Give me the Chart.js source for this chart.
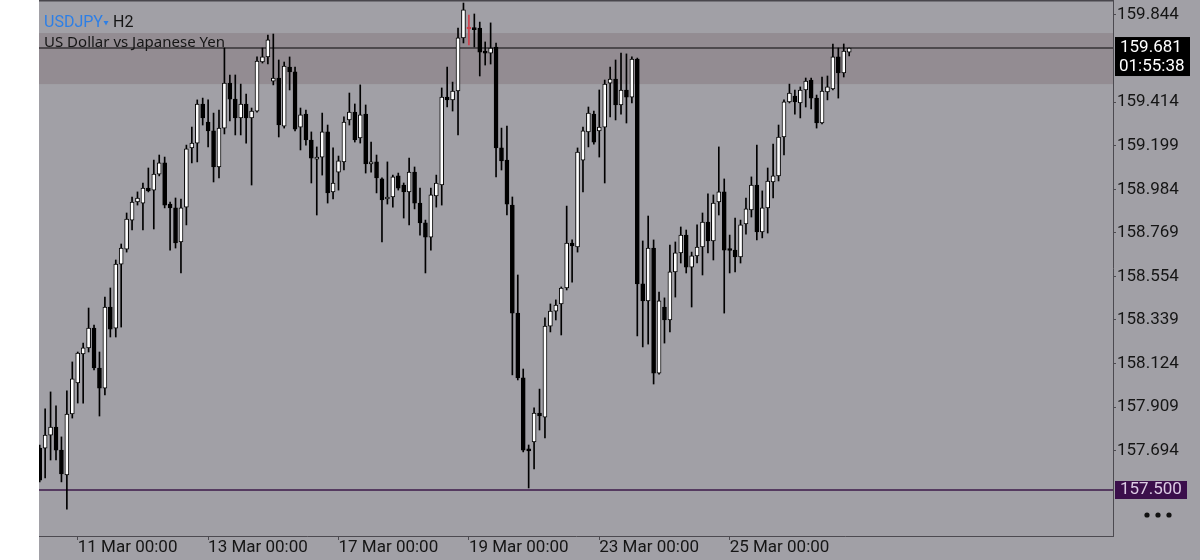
<!DOCTYPE html>
<html>
<head>
<meta charset="utf-8">
<script src="https://cdn.jsdelivr.net/npm/chart.js@4.4.1/dist/chart.umd.min.js"></script>
<style>
  html, body { margin: 0; padding: 0; background: #fff; }
  canvas { display: block; }
</style>
</head>
<body>
<canvas id="usdjpy" width="1200" height="560"></canvas>
<script>
// USDJPY H2 candles (index 0 is cut by the left edge)
const open = [
  157.707, 157.707, 157.771, 157.811, 157.697, 157.574, 157.875, 158.028, 158.171, 158.201,
  158.299, 158.102, 158.003, 158.403, 158.299, 158.615, 158.689, 158.832, 158.921, 158.916,
  158.990, 158.980, 159.059, 159.114, 158.911, 158.892, 158.724, 158.896, 159.188, 159.212,
  159.405, 159.316, 159.272, 159.094, 159.286, 159.508, 159.429, 159.336, 159.405, 159.336,
  159.370, 159.612, 159.637, 159.518, 159.533, 159.296, 159.587, 159.563, 159.291, 159.355,
  159.227, 159.133, 159.143, 159.267, 158.971, 159.069, 159.119, 159.326, 159.365, 159.237,
  159.355, 159.109, 159.119, 159.035, 158.936, 158.946, 159.050, 159.005, 158.971, 159.069,
  158.916, 158.818, 158.748, 158.951, 159.005, 159.439, 159.425, 159.469, 159.731, 159.775,
  159.775, 159.780, 159.661, 159.656, 159.686, 159.188, 159.128, 158.906, 158.373, 158.053,
  157.702, 157.737, 157.880, 157.860, 158.309, 158.383, 158.418, 158.497, 158.719, 158.699,
  159.128, 159.267, 159.355, 159.272, 159.291, 159.508, 159.528, 159.400, 159.474, 159.439,
  159.627, 158.517, 158.433, 158.694, 158.077, 158.403, 158.339, 158.576, 158.670, 158.758,
  158.600, 158.655, 158.699, 158.822, 158.729, 158.921, 158.971, 158.684, 158.684, 158.650,
  158.813, 158.882, 159.005, 158.773, 158.892, 159.020, 159.050, 159.242, 159.415, 159.444,
  159.410, 159.474, 159.523, 159.434, 159.311, 159.464, 159.479, 159.637, 159.558, 159.661
];
const high = [
  157.722, 157.900, 157.984, 157.915, 157.762, 157.989, 158.132, 158.181, 158.225, 158.398,
  158.314, 158.181, 158.452, 158.497, 158.635, 158.714, 158.867, 158.946, 158.971, 159.015,
  159.089, 159.128, 159.153, 159.143, 158.921, 158.941, 158.936, 159.202, 159.291, 159.425,
  159.434, 159.425, 159.360, 159.375, 159.681, 159.548, 159.548, 159.503, 159.454, 159.385,
  159.637, 159.681, 159.745, 159.750, 159.622, 159.612, 159.637, 159.587, 159.385, 159.375,
  159.267, 159.193, 159.360, 159.301, 159.188, 159.148, 159.341, 159.459, 159.405, 159.499,
  159.400, 159.217, 159.153, 159.040, 159.119, 159.054, 159.064, 159.015, 159.138, 159.094,
  158.990, 158.832, 158.990, 159.054, 159.484, 159.587, 159.513, 159.780, 159.903, 159.844,
  159.849, 159.809, 159.711, 159.805, 159.706, 159.286, 159.296, 158.946, 158.561, 158.097,
  157.722, 157.905, 157.998, 158.349, 158.418, 158.438, 158.502, 158.901, 158.734, 159.188,
  159.291, 159.390, 159.370, 159.474, 159.523, 159.587, 159.622, 159.656, 159.652, 159.637,
  159.632, 158.729, 158.852, 158.734, 158.477, 158.448, 158.709, 158.724, 158.798, 158.783,
  158.674, 158.808, 158.867, 158.961, 158.956, 159.193, 159.035, 158.758, 158.842, 158.832,
  158.941, 159.045, 159.202, 158.976, 159.089, 159.207, 159.301, 159.425, 159.503, 159.474,
  159.489, 159.533, 159.533, 159.449, 159.538, 159.543, 159.701, 159.681, 159.701, 159.681
];
const low = [
  157.540, 157.559, 157.648, 157.648, 157.540, 157.406, 157.855, 157.929, 157.929, 158.181,
  158.092, 157.865, 157.969, 158.255, 158.255, 158.304, 158.674, 158.783, 158.906, 158.783,
  158.971, 158.788, 159.050, 158.892, 158.684, 158.694, 158.571, 158.808, 159.114, 159.119,
  159.301, 159.193, 159.020, 159.040, 159.257, 159.321, 159.252, 159.252, 159.212, 159.005,
  159.365, 159.607, 159.602, 159.499, 159.242, 159.286, 159.474, 159.272, 159.178, 159.202,
  159.015, 158.857, 159.054, 158.916, 158.936, 158.980, 159.079, 159.301, 159.217, 159.212,
  159.064, 159.069, 158.966, 158.724, 158.911, 158.896, 158.980, 158.842, 158.808, 158.887,
  158.758, 158.571, 158.684, 158.896, 158.906, 159.390, 159.370, 159.252, 159.706, 159.696,
  159.686, 159.543, 159.597, 159.602, 159.045, 159.079, 158.857, 158.068, 158.043, 157.688,
  157.510, 157.604, 157.796, 157.757, 158.280, 158.339, 158.265, 158.487, 158.526, 158.674,
  158.971, 159.193, 159.207, 159.143, 159.015, 159.341, 159.326, 159.355, 159.311, 159.410,
  158.260, 158.206, 158.220, 158.023, 158.072, 158.225, 158.280, 158.452, 158.620, 158.571,
  158.403, 158.620, 158.561, 158.670, 158.635, 158.857, 158.373, 158.571, 158.576, 158.620,
  158.763, 158.847, 158.734, 158.744, 158.768, 158.941, 159.025, 159.153, 159.410, 159.355,
  159.336, 159.390, 159.380, 159.286, 159.306, 159.425, 159.474, 159.434, 159.538, 159.642
];
const close = [
  157.549, 157.771, 157.811, 157.697, 157.579, 157.875, 158.048, 158.176, 158.201, 158.299,
  158.102, 158.003, 158.403, 158.294, 158.615, 158.694, 158.837, 158.921, 158.941, 158.990,
  158.976, 159.059, 159.114, 158.906, 158.892, 158.719, 158.892, 159.183, 159.212, 159.405,
  159.336, 159.272, 159.094, 159.286, 159.508, 159.429, 159.336, 159.405, 159.336, 159.370,
  159.617, 159.637, 159.721, 159.533, 159.301, 159.592, 159.563, 159.281, 159.351, 159.227,
  159.138, 159.143, 159.267, 158.966, 159.015, 159.124, 159.316, 159.365, 159.227, 159.351,
  159.109, 159.119, 159.040, 158.931, 158.946, 159.045, 158.990, 158.971, 159.069, 158.916,
  158.818, 158.748, 158.956, 159.015, 159.439, 159.425, 159.469, 159.731, 159.869, 159.775,
  159.772, 159.661, 159.656, 159.681, 159.188, 159.124, 158.911, 158.373, 158.053, 157.697,
  157.693, 157.880, 157.865, 158.309, 158.383, 158.413, 158.497, 158.719, 158.704, 159.168,
  159.272, 159.360, 159.217, 159.291, 159.503, 159.528, 159.400, 159.474, 159.439, 159.627,
  158.517, 158.433, 158.694, 158.077, 158.433, 158.339, 158.576, 158.670, 158.758, 158.600,
  158.655, 158.699, 158.822, 158.729, 158.916, 158.971, 158.684, 158.682, 158.650, 158.808,
  158.887, 159.005, 158.773, 158.892, 159.025, 159.050, 159.242, 159.415, 159.459, 159.415,
  159.474, 159.518, 159.434, 159.311, 159.469, 159.489, 159.637, 159.558, 159.666, 159.681
];

// x axis: bar index -> time label (labels start at the bar)
const timeTickIndex = [7, 31, 55, 79, 103, 127];
const timeTickText = ['11 Mar 00:00', '13 Mar 00:00', '17 Mar 00:00', '19 Mar 00:00', '23 Mar 00:00', '25 Mar 00:00'];
const priceTicks = [159.844, 159.414, 159.199, 158.984, 158.769, 158.554, 158.339, 158.124, 157.909, 157.694];

const zone = [159.503, 159.755];
const lastPrice = 159.681;
const alertPrice = 157.500;
const countdown = '01:55:38';

const BG = '#a1a0a6';
const ZONE = '#938c92';
const AXIS = '#4c4a50';
const TEXT = '#151515';
const RED = '#d0404c';

const isDoji = i => open[i] === close[i];
const bodies = open.map((o, i) => ({ x: i, y: [o, close[i]] }));
const wicks = low.map((l, i) => ({ x: i, y: [l, high[i]] }));
const bodyFill = open.map((o, i) => isDoji(i) ? RED : (close[i] > o ? '#ffffff' : '#000000'));
const edge = open.map((o, i) => isDoji(i) ? RED : '#000000');

const decor = {
  id: 'decor',
  beforeDraw(chart) {
    const { ctx, width, height, chartArea: a, scales: { y } } = chart;
    ctx.save();
    ctx.fillStyle = '#ffffff';
    ctx.fillRect(0, 0, width, height);
    ctx.fillStyle = BG;
    ctx.fillRect(39, 0, width - 39, height);
    const t = y.getPixelForValue(zone[1]), b = y.getPixelForValue(zone[0]);
    ctx.fillStyle = ZONE;
    ctx.fillRect(a.left, t, a.right - a.left, b - t);
    ctx.restore();
  },
  beforeDatasetsDraw(chart) {
    const { ctx, chartArea: a, scales: { y } } = chart;
    const hline = (v, color, w) => {
      const py = y.getPixelForValue(v);
      ctx.beginPath();
      ctx.moveTo(a.left, py);
      ctx.lineTo(a.right, py);
      ctx.strokeStyle = color;
      ctx.lineWidth = w;
      ctx.stroke();
    };
    ctx.save();
    hline(lastPrice, '#4d494d', 2);
    hline(alertPrice, '#3d1848', 1.5);
    ctx.fillStyle = '#48464c';
    ctx.fillRect(a.left, 0, a.right - a.left, 1.5);
    ctx.restore();
  },
  afterDraw(chart) {
    const { ctx, scales: { y } } = chart;
    ctx.save();
    ctx.textBaseline = 'middle';
    ctx.textAlign = 'left';

    // symbol header
    ctx.font = '16px Roboto';
    ctx.fillStyle = '#2d7fe6';
    ctx.fillText('USDJPY', 44, 23);
    ctx.beginPath();
    ctx.moveTo(103.5, 21);
    ctx.lineTo(108.5, 21);
    ctx.lineTo(106, 25.5);
    ctx.closePath();
    ctx.fill();
    ctx.fillStyle = TEXT;
    ctx.fillText('H2', 113, 23);
    ctx.font = '15px "Noto Sans"';
    ctx.fillText('US Dollar vs Japanese Yen', 44, 43);

    // price tags on the axis
    const py = y.getPixelForValue(lastPrice);
    ctx.fillStyle = '#000000';
    ctx.fillRect(1115, py - 11, 75, 39);
    ctx.fillStyle = '#ffffff';
    ctx.font = '17px Roboto';
    ctx.fillText(lastPrice.toFixed(3), 1120, py);
    ctx.fillText(countdown, 1119, py + 19);

    const pa = y.getPixelForValue(alertPrice);
    ctx.fillStyle = '#3b0f4b';
    ctx.fillRect(1115, pa - 9, 72, 18);
    ctx.fillStyle = '#dccbe4';
    ctx.fillText(alertPrice.toFixed(3), 1120, pa);

    // menu dots
    ctx.fillStyle = '#111111';
    [1147, 1158, 1169].forEach(cx => {
      ctx.beginPath();
      ctx.arc(cx, 515, 2.6, 0, Math.PI * 2);
      ctx.fill();
    });
    ctx.restore();
  }
};

new Chart(document.getElementById('usdjpy'), {
  type: 'bar',
  data: {
    datasets: [
      {
        label: 'body',
        data: bodies,
        backgroundColor: bodyFill,
        borderColor: edge,
        borderWidth: 1,
        borderSkipped: false,
        barThickness: 4,
        minBarLength: 2,
        grouped: false
      },
      {
        label: 'wick',
        data: wicks,
        backgroundColor: edge,
        borderWidth: 0,
        barThickness: 1,
        grouped: false
      }
    ]
  },
  options: {
    responsive: false,
    animation: false,
    layout: { padding: { left: 39, top: 0, right: 0, bottom: 0 } },
    plugins: { legend: { display: false }, tooltip: { enabled: false } },
    scales: {
      x: {
        type: 'linear',
        min: -0.13,
        max: 197.56,
        offset: false,
        grid: { offset: false, drawOnChartArea: false, drawTicks: true, tickLength: 4, color: AXIS },
        border: { display: true, color: AXIS, width: 1 },
        ticks: {
          autoSkip: false,
          maxRotation: 0,
          align: 'start',
          padding: -2,
          color: TEXT,
          font: { family: 'Roboto', size: 17 },
          callback: v => timeTickText[timeTickIndex.indexOf(v)] ?? ''
        },
        afterBuildTicks: s => { s.ticks = timeTickIndex.map(v => ({ value: v })); },
        afterFit: s => { s.height = 24; s.paddingLeft = 0; s.paddingRight = 0; }
      },
      y: {
        position: 'right',
        min: 157.273,
        max: 159.918,
        grid: { drawOnChartArea: false, drawTicks: true, tickLength: 3, color: AXIS },
        border: { display: true, color: AXIS, width: 1 },
        ticks: {
          padding: 1,
          color: TEXT,
          font: { family: 'Roboto', size: 17 },
          callback: v => v.toFixed(3)
        },
        afterBuildTicks: s => { s.ticks = priceTicks.map(v => ({ value: v })); },
        afterFit: s => { s.width = 87; s.paddingTop = 0; s.paddingBottom = 0; }
      }
    }
  },
  plugins: [decor]
});
</script>
</body>
</html>
